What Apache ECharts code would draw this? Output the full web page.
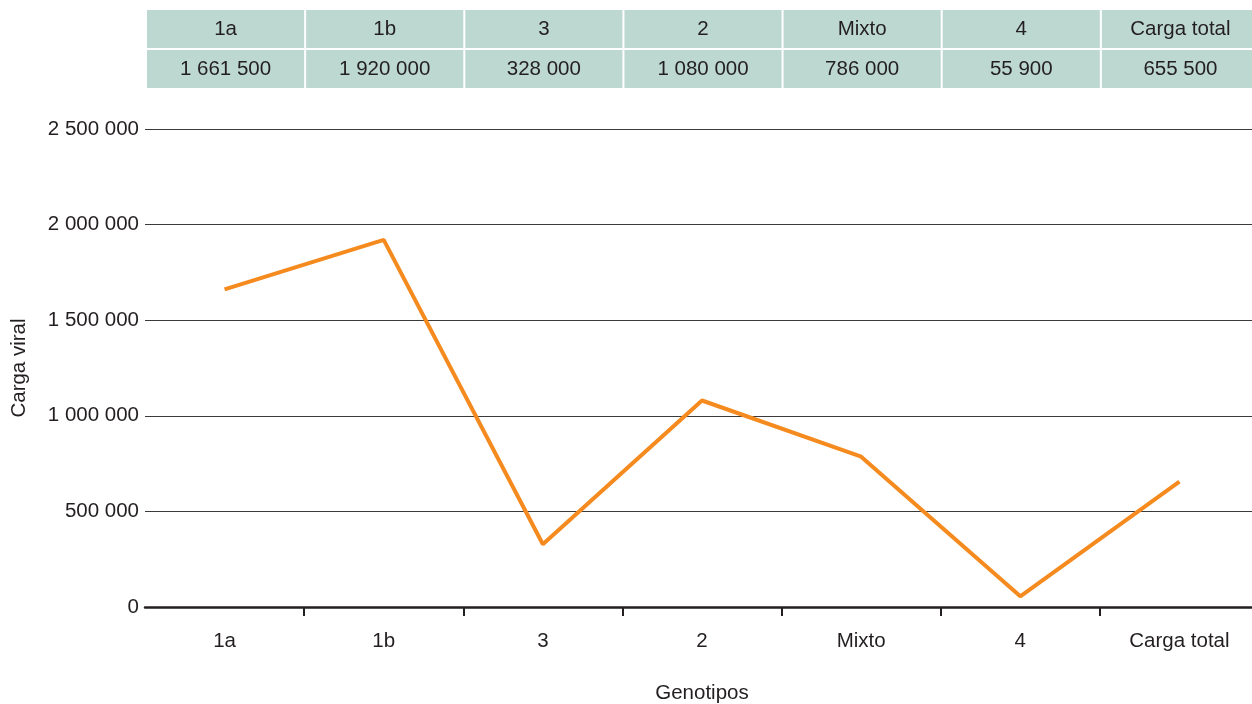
<!DOCTYPE html>
<html>
<head>
<meta charset="utf-8">
<script src="https://cdn.jsdelivr.net/npm/echarts@6/dist/echarts.min.js"></script>
<style>
html,body{margin:0;padding:0;background:#fff;overflow:hidden;}
#main{width:1252px;height:704px;}
</style>
</head>
<body>
<div id="main"></div>
<script>
var categories = ['1a', '1b', '3', '2', 'Mixto', '4', 'Carga total'];
var viralLoad = [1661500, 1920000, 328000, 1080000, 786000, 55900, 655500];
var tableValues = ['1 661 500', '1 920 000', '328 000', '1 080 000', '786 000', '55 900', '655 500'];
var yTicks = [0, 500000, 1000000, 1500000, 2000000, 2500000];

var FONT = '"Liberation Sans", Arial, sans-serif';
var FS = 20.5;
var TXT = '#231f20';

function fmt(v) {
  return String(v).replace(/\B(?=(\d{3})+(?!\d))/g, ' ');
}

var chart = echarts.init(document.getElementById('main'), null, {renderer: 'canvas', width: 1252, height: 704});
var option = {
  animation: false,
  backgroundColor: '#fff',
  textStyle: {fontFamily: FONT},
  grid: {left: 145, width: 1114, top: 129, height: 478, containLabel: false, outerBoundsMode: 'none'},
  xAxis: {
    type: 'category',
    data: categories,
    boundaryGap: true,
    name: 'Genotipos',
    nameLocation: 'middle',
    nameGap: 76,
    nameTextStyle: {fontSize: FS, color: TXT, fontFamily: FONT},
    axisLine: {lineStyle: {color: '#231f20', width: 2.5}},
    axisTick: {show: true, length: 9, lineStyle: {color: '#231f20', width: 2},
      interval: function (i) { return i !== 0; }},
    axisLabel: {fontSize: FS, color: TXT, margin: 24, fontFamily: FONT}
  },
  yAxis: {
    type: 'value',
    min: 0,
    max: yTicks[yTicks.length - 1],
    interval: yTicks[1] - yTicks[0],
    name: 'Carga viral',
    nameLocation: 'middle',
    nameRotate: 90,
    nameGap: 115,
    nameTextStyle: {fontSize: FS, color: TXT, fontFamily: FONT},
    axisLine: {show: false},
    axisTick: {show: false},
    axisLabel: {fontSize: FS, color: TXT, margin: 6, fontFamily: FONT,
      formatter: function (v) { return fmt(v); }},
    splitLine: {lineStyle: {color: '#3a3a3a', width: 1}}
  },
  series: [{
    type: 'line',
    data: viralLoad,
    symbol: 'none',
    lineStyle: {color: '#f58a1f', width: 4},
    itemStyle: {color: '#f58a1f'},
    z: 5
  }]
};
chart.setOption(option);

// Build the header table from the category axis scale
var c0 = chart.convertToPixel({xAxisIndex: 0}, 0);
var c1 = chart.convertToPixel({xAxisIndex: 0}, 1);
var bw = c1 - c0;
var graphics = [];
var rows = [categories, tableValues];
var rowTop = [10, 50];
var rowH = 38;
for (var r = 0; r < rows.length; r++) {
  for (var i = 0; i < categories.length; i++) {
    var cx = chart.convertToPixel({xAxisIndex: 0}, i);
    var left = cx - bw / 2;
    graphics.push({
      type: 'rect',
      shape: {x: left + 2, y: rowTop[r], width: bw - 2, height: rowH},
      style: {fill: '#bdd8d1'},
      silent: true
    });
    graphics.push({
      type: 'text',
      x: left + 1 + bw / 2,
      y: rowTop[r] + rowH / 2,
      style: {text: rows[r][i], fill: TXT, font: FS + 'px ' + FONT, textAlign: 'center', textVerticalAlign: 'middle'},
      silent: true
    });
  }
}
chart.setOption({graphic: graphics});
</script>
</body>
</html>
